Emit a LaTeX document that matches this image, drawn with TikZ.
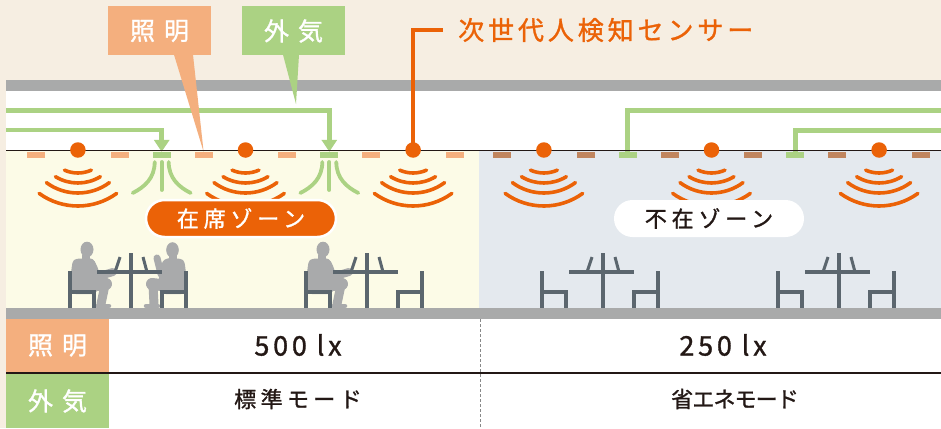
\documentclass[tikz,border=0pt]{standalone}
\usepackage{fontspec}
\setmainfont{Noto Sans CJK JP}[FakeBold=1.2]
\usetikzlibrary{positioning,calc,arrows.meta}

\definecolor{paper}{HTML}{F6EEE2}
\definecolor{slab}{HTML}{A9AAAA}
\definecolor{sensor}{HTML}{EB6207}
\definecolor{lighting}{HTML}{F4AF7E}
\definecolor{outair}{HTML}{ABD283}
\definecolor{inzone}{HTML}{FCFBE7}
\definecolor{outzone}{HTML}{E4E9EE}
\definecolor{lampoff}{HTML}{C0855E}
\definecolor{furniture}{HTML}{5B666E}
\definecolor{silhouette}{HTML}{A9AAAB}
\definecolor{ink}{HTML}{231815}

\tikzset{
  fixture/.style={fill=#1, minimum width=18, minimum height=6, inner sep=0},
  sensordot/.style={circle, fill=sensor, minimum size=15.5, inner sep=0},
  wave/.style={draw=sensor, line width=3.6, line cap=round},
  breeze/.style={draw=outair, line width=3.8, line cap=round},
  duct/.style={draw=outair, line width=4.5},
  tagbox/.style={fill=#1, text=white, minimum width=103, minimum height=49, inner sep=0,
    font=\fontsize{25}{28}\selectfont\addfontfeatures{LetterSpace=36}},
  cellbox/.style={tagbox=#1, minimum height=53},
  zonetag/.style={minimum width=190, minimum height=37, rounded corners=18.5, inner sep=0,
    font=\fontsize{22}{26}\selectfont\addfontfeatures{LetterSpace=22}},
  value/.style={text=ink, inner sep=0,
    font=\fontsize{27}{30}\selectfont\addfontfeatures{LetterSpace=14}},
  mode/.style={text=ink, inner sep=0,
    font=\fontsize{22}{25}\selectfont\addfontfeatures{LetterSpace=#1}},
  frame/.style={draw=furniture, line width=4},
  body/.style={draw=silhouette, line cap=round, line join=round},
  pics/waves/.style={code={
    \foreach \r/\a in {33/24,43/31.5,53/36.5,66/36}
      \draw[wave] (90+\a:\r) arc[start angle=90+\a, end angle=90-\a, radius=\r];
  }},
  pics/vent/.style={code={
    \draw[breeze] (0,12) -- (0,40);
    \draw[breeze] (-7,12) .. controls (-7,28) and (-17,37) .. (-29,43);
    \draw[breeze] (7,12) .. controls (7,28) and (17,37) .. (29,43);
  }},
  pics/deskset/.style={code={
    \draw[frame] (-61,-37) -- (-61,0) (-61,-16) -- (-37,-16) -- (-37,0);
    \draw[frame] (55,-37) -- (55,0) (55,-16) -- (31,-16) -- (31,0);
    \draw[frame] (-34,-36) -- (31,-36) (0,-55) -- (0,0);
    \draw[frame, line width=3] (-16,-36) -- (-11,-51) (16,-36) -- (12,-51);
  }},
  pics/typist/.style={code={
    \fill[silhouette] (17,-58.5) ellipse[x radius=6.5, y radius=7.8];
    \fill[silhouette] (12,-53) rectangle (20,-46);
    \fill[silhouette, rounded corners=4] (3,-49) -- (23,-50) -- (29,-38) -- (29,-22)
      -- (26,-14) -- (2,-14) -- (1,-36) -- cycle;
    \draw[body, line width=8] (21,-45) -- (26,-31) -- (43,-36);
    \draw[body, line width=12] (9,-21) -- (36,-24);
    \draw[body, line width=9] (35,-23) -- (31,-4);
    \draw[body, line width=4.5] (27,-2) -- (39,-2);
  }},
  pics/talker/.style={code={
    \fill[silhouette] (13.5,-58) ellipse[x radius=6.3, y radius=7.8];
    \fill[silhouette] (9,-53) rectangle (17,-46);
    \fill[silhouette, rounded corners=4] (2,-49) -- (21,-50) -- (27,-38) -- (27,-22)
      -- (24,-14) -- (1,-14) -- (0,-36) -- cycle;
    \draw[body, line width=7] (20,-45) -- (25,-34) -- (29,-50);
    \draw[body, line width=12] (6,-21) -- (34,-24);
    \draw[body, line width=9] (33,-23) -- (32,-4);
    \draw[body, line width=4.5] (28,-2) -- (40,-2);
  }},
}

\begin{document}
\begin{tikzpicture}[x=1pt, y=-1pt]
\useasboundingbox (0,0) rectangle (941,428);
\fill[paper] (0,0) rectangle (941,428);
\fill[slab] (6,80) rectangle (941,91);
\fill[white] (6,91) rectangle (941,150);
\fill[inzone] (6,150) rectangle (479,308);
\fill[outzone] (479,150) rectangle (941,308);
\fill[slab] (6,308) rectangle (941,319);
\fill[white] (109,319) rectangle (941,428);

% ceiling: lamps, vents, ducts
\foreach \k in {0,2,4,6,8,10} {
  \node[fixture=lighting] (lampL\k) at (36+41.9*\k,155) {};
  \node[fixture=lampoff] (lampR\k) at (502+41.9*\k,155) {};
}
\foreach \k/\n in {3/1,7/2} {
  \node[fixture=outair] (ventL\n) at (36+41.9*\k,155) {};
  \node[fixture=outair] (ventR\n) at (502+41.9*\k,155) {};
  \pic at (36+41.9*\k,150) {vent};
}
\coordinate (ductA) at (6,110.5);
\coordinate (ductB) at (6,130);
\coordinate (ductC) at (941,110.5);
\coordinate (ductD) at (941,130.5);
\draw[duct, -{Triangle[width=15pt,length=12pt]}] (ductA) -| (ventL2.north);
\draw[duct, -{Triangle[width=15pt,length=12pt]}] (ductB) -| (ventL1.north);
\draw[duct] (ductC) -| (ventR1.north);
\draw[duct] (ductD) -| (ventR2.north);

% tags over the ceiling
\node[tagbox=lighting] (lighttag) at (159.5,31) {照明};
\node[tagbox=outair] (airtag) at (293.5,31) {外気};
\coordinate (airtip) at (296,104);
\fill[lighting] ([xshift=14.5pt, yshift=1pt]lighttag.south) -- ([xshift=33.5pt, yshift=1pt]lighttag.south) -- (lampL4.north) -- cycle;
\fill[outair] ([xshift=-10.5pt, yshift=1pt]airtag.south) -- ([xshift=5.5pt, yshift=1pt]airtag.south) -- (airtip) -- cycle;
\draw[ink, line width=1.6] (6,150.5) -- (941,150.5);

% sensors
\node[anchor=west, text=sensor, inner sep=0,
  font=\fontsize{26}{30}\selectfont\addfontfeatures{LetterSpace=15}] (sensortag) at (458,30) {次世代人検知センサー};
\foreach \k/\n in {1/1,5/2,9/3} {
  \pic at (36+41.9*\k,140) {waves};
  \pic at (502+41.9*\k,140) {waves};
}
\draw[sensor, line width=4] (36+41.9*9,150) |- ([xshift=-15pt]sensortag.west);
\foreach \k/\n in {1/1,5/2,9/3} {
  \node[sensordot] (senL\n) at (36+41.9*\k,150) {};
  \node[sensordot] (senR\n) at (502+41.9*\k,150) {};
}

\node[zonetag, fill=sensor, draw=white, line width=2.5, text=white] (busyzone) at (241,218.5) {在席ゾーン};
\node[zonetag, fill=white, text=ink] (idlezone) at (709,218.5) {不在ゾーン};

% people and desks
\pic at (70,308) {typist};
\pic[xscale=-1] at (186,308) {talker};
\pic at (306,308) {typist};
\foreach \d in {131,367,603,839}
  \pic at (\d,308) {deskset};

% settings table
\node[cellbox=lighting] (lightrow) at (57.5,345.5) {照明};
\node[cellbox=outair, minimum height=54] (airrow) at (57.5,401) {外気};
\draw[slab!80!black, line width=0.6, dash pattern=on 3pt off 2pt] (480,319) -- (480,428);
\draw[ink, line width=2] (6,373) -- (941,373);
\node[value] (luxin) at (298,345) {500 lx};
\node[value] (luxout) at (723,345) {250 lx};
\node[mode=20] (modein) at (298,399) {標準モード};
\node[mode=-4] (modeout) at (735,399) {省エネモード};
\end{tikzpicture}
\end{document}
